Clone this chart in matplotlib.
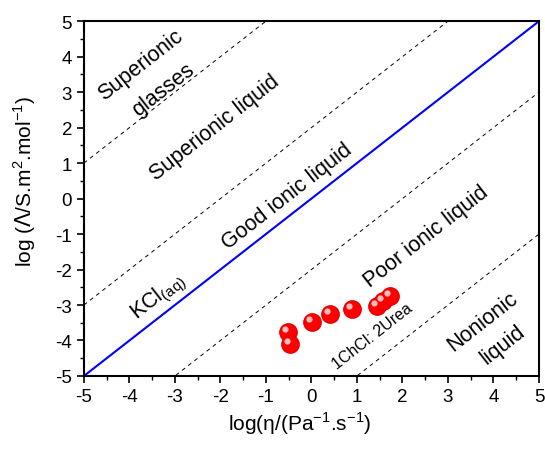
import matplotlib
matplotlib.use('Agg')
import matplotlib.pyplot as plt
import matplotlib.transforms as mtransforms
import numpy as np

plt.rcParams['font.family'] = ['Liberation Sans', 'DejaVu Sans']
plt.rcParams['axes.unicode_minus'] = False

# Walden plot data, 1ChCl:2Urea
log_eta = [-0.52, -0.47, 0.01, 0.41, 0.89, 1.44, 1.57, 1.73]
log_lam = [-3.76, -4.10, -3.48, -3.25, -3.11, -3.03, -2.89, -2.75]

# reference lines y = x + offset
ideal_offset = 0
dashed_offsets = [6, 2, -2, -6]
ticks = [-5, -4, -3, -2, -1, 0, 1, 2, 3, 4, 5]

fig = plt.figure(figsize=(5.45, 4.52), dpi=100)
ax = fig.add_axes([0.154, 0.166, 0.835, 0.785])

xs = np.array([-5, 5])
for off in dashed_offsets:
    ax.plot(xs, xs + off, color='black', ls=(0, (4, 4)), lw=0.7)
ax.plot(xs, xs + ideal_offset, color='#0000ff', lw=1.5)

ax.plot(log_eta, log_lam, 'o', color='#ff0000', ms=12.5, mec='#e80000', zorder=5)
# highlight on the spheres
hl = mtransforms.offset_copy(ax.transData, fig=fig, x=-2, y=2, units='points')
ax.plot(log_eta, log_lam, 'o', color='#ffd0d0', ms=4.5, mec='none', alpha=0.9,
        transform=hl, zorder=6)

rot = 38
fs = 15.5
ax.text(-3.75, 3.79, 'Superionic', rotation=rot, ha='center', va='center', fontsize=fs)
ax.text(-3.26, 3.08, 'glasses', rotation=rot, ha='center', va='center', fontsize=fs)
ax.text(-2.12, 2.01, 'Superionic liquid', rotation=rot, ha='center', va='center', fontsize=fs)
ax.text(-0.54, 0.07, 'Good ionic liquid', rotation=rot, ha='center', va='center', fontsize=fs)
ax.text(-3.35, -2.75, r'KCl$_{\mathregular{(aq)}}$', rotation=rot, ha='center', va='center', fontsize=fs)
ax.text(2.52, -1.06, 'Poor ionic liquid', rotation=rot, ha='center', va='center', fontsize=fs)
ax.text(1.33, -3.87, '1ChCl: 2Urea', rotation=rot, ha='center', va='center', fontsize=11.5)
ax.text(3.77, -3.45, 'Nonionic', rotation=rot, ha='center', va='center', fontsize=fs)
ax.text(4.21, -4.1, 'liquid', rotation=rot, ha='center', va='center', fontsize=fs)

ax.set_xlim(-5, 5)
ax.set_ylim(-5, 5)
ax.set_xticks(ticks)
ax.set_yticks(ticks)
ax.set_xticks(np.arange(-4.5, 5, 1), minor=True)
ax.set_yticks(np.arange(-4.5, 5, 1), minor=True)
ax.tick_params(which='major', direction='out', length=5, width=1.2, labelsize=13.5)
ax.tick_params(which='minor', direction='out', length=3, width=1.0)
for s in ax.spines.values():
    s.set_linewidth(1.5)

ax.set_xlabel('log(η/(Pa$^{\\mathregular{-1}}$.s$^{\\mathregular{-1}}$)', fontsize=15)
ax.set_ylabel(r'log ($\Lambda$/S.m$^{\mathregular{2}}$.mol$^{\mathregular{-1}}$)', fontsize=15)
ax.xaxis.set_label_coords(0.475, -0.095)
ax.yaxis.set_label_coords(-0.10, 0.55)

fig.savefig('out.png', dpi=100)
